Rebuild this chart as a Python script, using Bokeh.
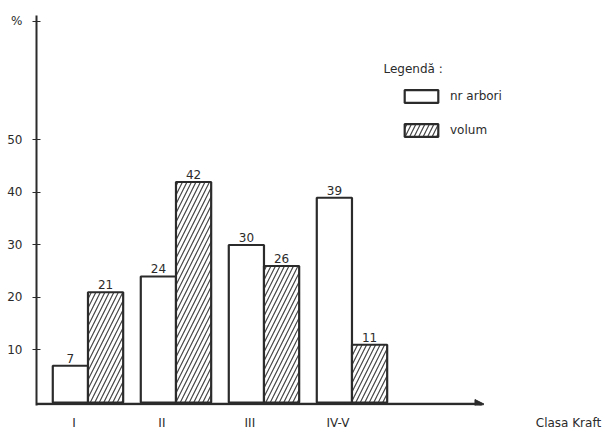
from bokeh.plotting import figure
from bokeh.models import Range1d, FixedTicker, Label, Arrow, NormalHead, Legend, LegendItem, ColumnDataSource
from bokeh.core.properties import value
from bokeh.embed import file_html
from bokeh.resources import INLINE

categories = ["I", "II", "III", "IV-V"]
nr_arbori = [7, 24, 30, 39]
volum = [21, 42, 26, 11]
y_ticks = [10, 20, 30, 40, 50]
y_unit = "%"
x_title = "Clasa Kraft"

FONT = "DejaVu Sans"
INK = "#2b2b2b"
TXT = "#2b2b2b"

idx = list(range(len(categories)))
src_a = ColumnDataSource(dict(x=[i - 0.2 for i in idx], top=nr_arbori, lab=[str(v) for v in nr_arbori]))
src_v = ColumnDataSource(dict(x=[i + 0.2 for i in idx], top=volum, lab=[str(v) for v in volum]))

p = figure(width=608, height=432, output_backend="svg", toolbar_location=None,
           x_range=Range1d(-0.585, 5.915), y_range=Range1d(-0.571, 73.71),
           min_border_left=36, min_border_right=0, min_border_top=15, min_border_bottom=27)
p.outline_line_color = None
p.xgrid.visible = False
p.ygrid.visible = False
p.background_fill_color = "white"

ra = p.vbar(x="x", top="top", bottom=0, width=0.4, source=src_a,
            fill_color="white", line_color=INK, line_width=2.2)
rv = p.vbar(x="x", top="top", bottom=0, width=0.4, source=src_v,
            fill_color="white", line_color=INK, line_width=2.2,
            hatch_pattern="/", hatch_scale=9, hatch_weight=1.2, hatch_color="#444444")

for s in (src_a, src_v):
    p.text(x="x", y="top", text="lab", source=s, text_align="center", text_baseline="bottom",
           y_offset=-3, text_font=value(FONT), text_font_size="12px", text_color=TXT)

# y axis (unit sign shown at the top, where the axis arrow ends)
unit_pos = 72.6
p.yaxis.ticker = FixedTicker(ticks=y_ticks + [unit_pos])
p.yaxis.major_label_overrides = {unit_pos: y_unit}
p.yaxis.axis_line_color = INK
p.yaxis.axis_line_width = 2
p.yaxis.major_tick_in = 4
p.yaxis.major_tick_out = 4
p.yaxis.major_tick_line_color = INK
p.yaxis.minor_tick_line_color = None
p.yaxis.major_label_standoff = 10
p.yaxis.major_label_text_font = FONT
p.yaxis.major_label_text_font_size = "12px"
p.yaxis.major_label_text_color = TXT

# x axis (category labels + axis title at the arrow end)
tick_pos = [i - 0.16 for i in idx]
title_pos = 5.46
p.xaxis.ticker = FixedTicker(ticks=tick_pos + [title_pos])
overrides = {t: c for t, c in zip(tick_pos, categories)}
overrides[title_pos] = x_title
p.xaxis.major_label_overrides = overrides
p.xaxis.axis_line_color = None
p.xaxis.major_tick_line_color = None
p.xaxis.minor_tick_line_color = None
p.xaxis.major_label_standoff = 4
p.xaxis.major_label_text_font = FONT
p.xaxis.major_label_text_font_size = "12px"
p.xaxis.major_label_text_color = TXT

p.add_layout(Arrow(end=NormalHead(size=9, fill_color=INK, line_color=INK),
                   x_start=-0.585, y_start=-0.3, x_end=4.5, y_end=-0.3,
                   line_color=INK, line_width=2.5))

p.add_layout(Label(x=3.358, y=63.6, text="Legendă :", text_baseline="alphabetic",
                   text_font=FONT, text_font_size="12px", text_color=TXT))

legend = Legend(items=[LegendItem(label="nr arbori", renderers=[ra]),
                       LegendItem(label="volum", renderers=[rv])],
                location=(364, 267), padding=0, margin=0, spacing=18,
                glyph_width=42, glyph_height=16, label_height=16, label_standoff=8,
                border_line_color=None, background_fill_alpha=0,
                label_text_font=FONT, label_text_font_size="12px", label_text_color=TXT)
p.add_layout(legend, "center")

open("out.html", "w").write(file_html(p, INLINE))
